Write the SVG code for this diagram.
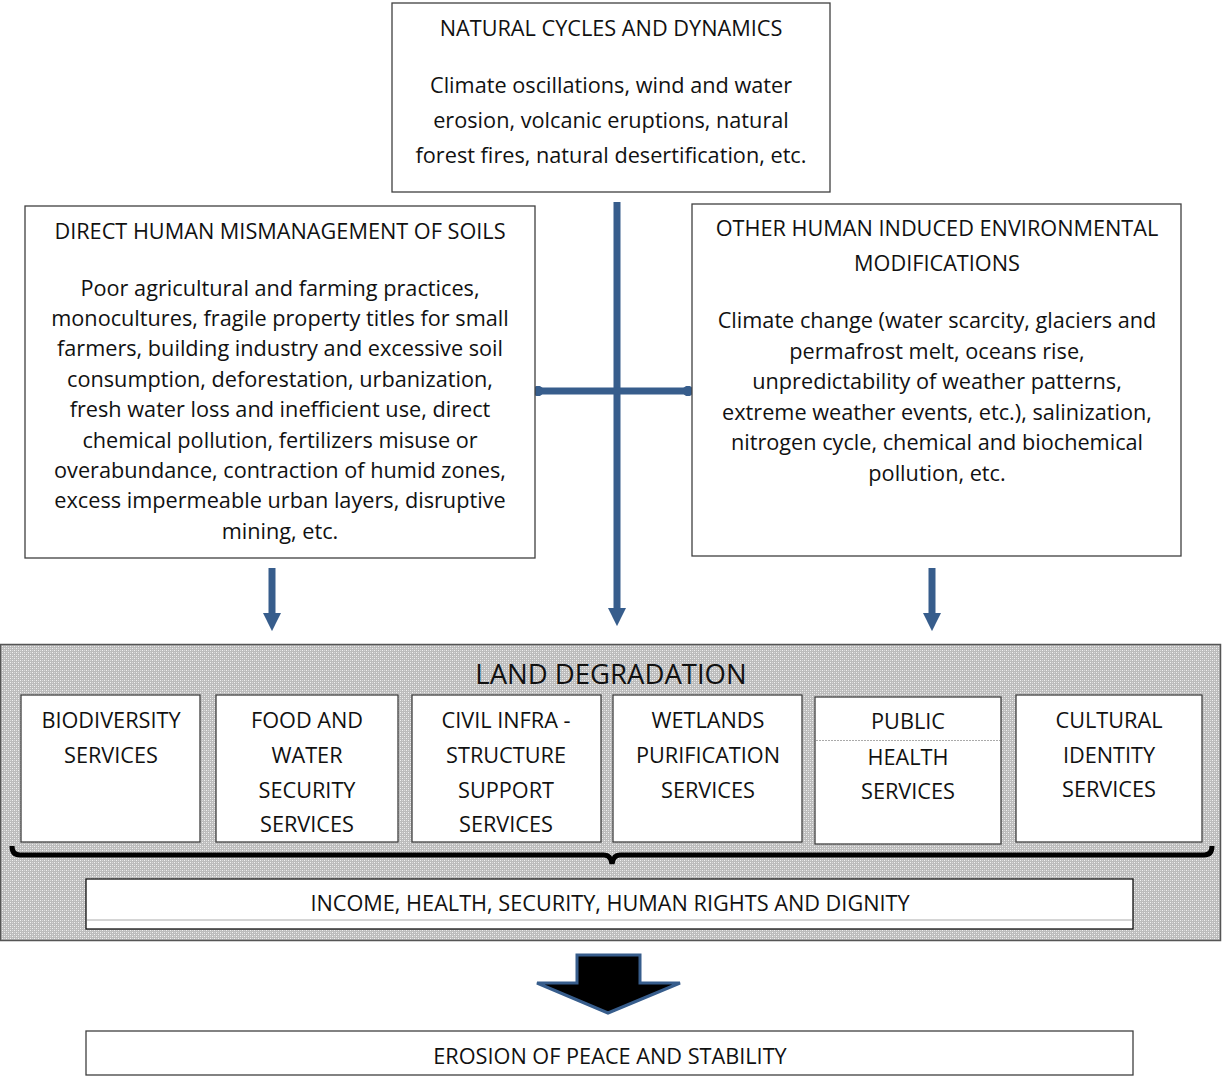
<svg xmlns="http://www.w3.org/2000/svg" width="1222" height="1077" viewBox="0 0 1222 1077">
<defs>
<pattern id="dots" width="4" height="4" patternUnits="userSpaceOnUse">
<rect width="4" height="4" fill="#bcbcbc"/>
<rect x="0" y="0" width="1" height="1" fill="#f2f2f2"/>
<rect x="2" y="2" width="1" height="1" fill="#f2f2f2"/>
<rect x="2" y="0" width="1" height="1" fill="#d8d8d8"/>
<rect x="0" y="2" width="1" height="1" fill="#d8d8d8"/>
</pattern>
<marker id="ah" viewBox="0 0 10 10" refX="5" refY="5" markerWidth="2.6" markerHeight="2.6" markerUnits="strokeWidth" orient="auto">
<path d="M0,0 L10,5 L0,10 z" fill="#375d8c"/>
</marker>
<marker id="dot" viewBox="0 0 10 10" refX="5" refY="5" markerWidth="1.5" markerHeight="1.5" markerUnits="strokeWidth" orient="auto">
<circle cx="5" cy="5" r="5" fill="#375d8c"/>
</marker>
</defs>
<style>
.box{fill:#fff;stroke:#404040;stroke-width:1.3}
.t{font-family:"Open Sans","Noto Sans",sans-serif;font-size:21.7px;fill:#111;text-anchor:middle}
.c{stroke:#375d8c;stroke-width:7;fill:none}
</style>
<rect width="1222" height="1077" fill="#fff"/>

<g id="connectors">
<line class="c" x1="617" y1="202" x2="617" y2="617" marker-end="url(#ah)"/>
<line class="c" x1="538" y1="391" x2="688" y2="391" marker-start="url(#dot)" marker-end="url(#dot)"/>
<line class="c" x1="272" y1="568" x2="272" y2="622" marker-end="url(#ah)"/>
<line class="c" x1="932" y1="568" x2="932" y2="622" marker-end="url(#ah)"/>
</g>

<g id="natural">
<rect class="box" x="392" y="3" width="438" height="189"/>
<text class="t" x="611" y="35.5">NATURAL CYCLES AND DYNAMICS</text>
<text class="t" x="611" y="92.5">Climate oscillations, wind and water</text>
<text class="t" x="611" y="127.5">erosion, volcanic eruptions, natural</text>
<text class="t" x="611" y="162.5">forest fires, natural desertification, etc.</text>
</g>

<g id="direct">
<rect class="box" x="25" y="206" width="510" height="352"/>
<text class="t" x="280" y="238.5">DIRECT HUMAN MISMANAGEMENT OF SOILS</text>
<text class="t" x="280" y="295.5">Poor agricultural and farming practices,</text>
<text class="t" x="280" y="325.5">monocultures, fragile property titles for small</text>
<text class="t" x="280" y="355.5">farmers, building industry and excessive soil</text>
<text class="t" x="280" y="386.5">consumption, deforestation, urbanization,</text>
<text class="t" x="280" y="416.5">fresh water loss and inefficient use, direct</text>
<text class="t" x="280" y="447.5">chemical pollution, fertilizers misuse or</text>
<text class="t" x="280" y="477.5">overabundance, contraction of humid zones,</text>
<text class="t" x="280" y="507.5">excess impermeable urban layers, disruptive</text>
<text class="t" x="280" y="538.5">mining, etc.</text>
</g>

<g id="other">
<rect class="box" x="692" y="204" width="489" height="352"/>
<text class="t" x="937" y="235.5">OTHER HUMAN INDUCED ENVIRONMENTAL</text>
<text class="t" x="937" y="270.5">MODIFICATIONS</text>
<text class="t" x="937" y="327.5">Climate change (water scarcity, glaciers and</text>
<text class="t" x="937" y="358.5">permafrost melt, oceans rise,</text>
<text class="t" x="937" y="388.5">unpredictability of weather patterns,</text>
<text class="t" x="937" y="419.5">extreme weather events, etc.), salinization,</text>
<text class="t" x="937" y="449.5">nitrogen cycle, chemical and biochemical</text>
<text class="t" x="937" y="480.5">pollution, etc.</text>
</g>

<g id="land">
<rect x="0.5" y="644.5" width="1220" height="296" fill="url(#dots)" stroke="#555" stroke-width="1.5"/>
<text class="t" x="611" y="684" style="font-size:27.5px">LAND DEGRADATION</text>
</g>

<g id="biodiversity">
<rect class="box" x="21" y="695" width="179" height="147"/>
<text class="t" x="111" y="727.5">BIODIVERSITY</text>
<text class="t" x="111" y="762.5">SERVICES</text>
</g>
<g id="food">
<rect class="box" x="216" y="695" width="182" height="147"/>
<text class="t" x="307" y="727.5">FOOD AND</text>
<text class="t" x="307" y="762.5">WATER</text>
<text class="t" x="307" y="797.5">SECURITY</text>
<text class="t" x="307" y="831.5">SERVICES</text>
</g>
<g id="civil">
<rect class="box" x="412" y="695" width="189" height="147"/>
<text class="t" x="506" y="727.5">CIVIL INFRA -</text>
<text class="t" x="506" y="762.5">STRUCTURE</text>
<text class="t" x="506" y="797.5">SUPPORT</text>
<text class="t" x="506" y="831.5">SERVICES</text>
</g>
<g id="wetlands">
<rect class="box" x="613" y="695" width="189" height="147"/>
<text class="t" x="708" y="727.5">WETLANDS</text>
<text class="t" x="708" y="762.5">PURIFICATION</text>
<text class="t" x="708" y="797.5">SERVICES</text>
</g>
<g id="health">
<rect class="box" x="815" y="697" width="186" height="147"/>
<line x1="816" y1="740.5" x2="1000" y2="740.5" stroke="#aaa" stroke-width="1" stroke-dasharray="2,1"/>
<text class="t" x="908" y="728.5">PUBLIC</text>
<text class="t" x="908" y="764.5">HEALTH</text>
<text class="t" x="908" y="798.5">SERVICES</text>
</g>
<g id="cultural">
<rect class="box" x="1016" y="695" width="186" height="147"/>
<text class="t" x="1109" y="727.5">CULTURAL</text>
<text class="t" x="1109" y="762.5">IDENTITY</text>
<text class="t" x="1109" y="796.5">SERVICES</text>
</g>

<g id="brace">
<path d="M12,846 Q12,855 20,855 L604,855 Q611,855 612,864 Q613,855 620,855 L1204,855 Q1212,855 1212,846" fill="none" stroke="#000" stroke-width="5"/>
</g>

<g id="income">
<rect class="box" x="86" y="879" width="1047" height="50" style="stroke:#111"/>
<line x1="87" y1="920" x2="1132" y2="920" stroke="#aaa" stroke-width="1"/>
<text class="t" x="610" y="910.5">INCOME, HEALTH, SECURITY, HUMAN RIGHTS AND DIGNITY</text>
</g>

<g id="bigarrow">
<path d="M577,955 L640,955 L640,983 L680,983 L608,1013 L537,983 L577,983 Z" fill="#000" stroke="#375d8c" stroke-width="3" stroke-linejoin="miter"/>
</g>

<g id="erosion">
<rect class="box" x="86" y="1031" width="1047" height="44"/>
<text class="t" x="610" y="1063.5">EROSION OF PEACE AND STABILITY</text>
</g>
</svg>
